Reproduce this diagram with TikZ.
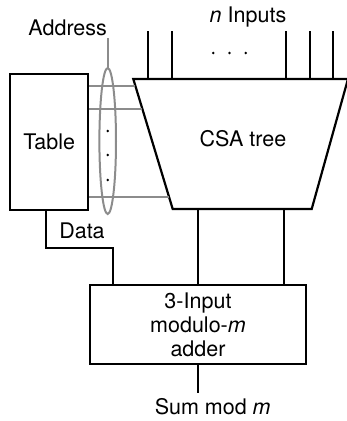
\documentclass[tikz,border=0pt]{standalone}
\usepackage{fontspec}
\setmainfont{TeX Gyre Heros}
\usetikzlibrary{positioning,calc}

\begin{document}
\begin{tikzpicture}[x=1pt,y=-1pt,
  wire/.style={line width=2.2pt},
  addr/.style={line width=2pt,draw=black!45},
  box/.style={draw,line width=2.2pt,inner sep=0pt,align=center},
  lbl/.style={font=\fontsize{21.5}{24}\selectfont,inner sep=0pt}]
  \useasboundingbox (0,0) rectangle (346,421);
  % table and adder
  \node[box,lbl,minimum width=78pt,minimum height=136pt] (tab) at (49.3,142) {Table};
  \node[box,lbl,minimum width=216pt,minimum height=79pt] (add) at (198,324.7)
    {3-Input\\modulo-\textit{m}\\adder};
  % CSA tree
  \coordinate (tl) at (133.3,79); \coordinate (tr) at (348,79);
  \coordinate (br) at (311.7,209); \coordinate (bl) at (172.7,209);
  \draw[wire,line join=miter] (tl) -- (tr) -- (br) -- (bl) -- cycle;
  \node[lbl,anchor=base] (csa) at (243,146.7) {CSA tree};
  % n inputs
  \node[lbl,anchor=base] (inp) at (248,22) {\textit{n} Inputs};
  \foreach \x [count=\i] in {147.7,171.7,286,310,333.3} {
    \coordinate (in\i) at (\x,31);
    \draw[wire] (in\i) -- (in\i |- tl);
  }
  \foreach \x in {213.3,229.5,245.7} \fill (\x,53) circle (1.4pt);
  % address
  \node[lbl,anchor=base] (adr) at (67.7,35) {Address};
  \coordinate (atop) at (107.7,38);
  \draw[addr] (107.7,141) ellipse (8.3pt and 73pt);
  \draw[addr] (atop) -- (107.7,68);
  \foreach \y [count=\i] in {86,109,197.3} {
    \coordinate (a\i) at ($(tl)!{(\y-79)/130}!(bl)$);
    \draw[addr] (tab.east |- a\i) -- (a\i);
  }
  \foreach \y in {131,155,180} \fill (107.7,\y) circle (1.4pt);
  % data
  \coordinate (d0) at ($(tab.south west)!0.455!(tab.south east)$);
  \coordinate (dknee) at (112.7,247.7);
  \draw[wire] (d0) |- (dknee) -- (dknee |- add.north);
  \node[lbl,anchor=base] (dat) at (82,238) {Data};
  \coordinate (o1) at (198.3,209); \coordinate (o2) at (284,209);
  \draw[wire] (o1) -- (o1 |- add.north);
  \draw[wire] (o2) -- (o2 |- add.north);
  % output
  \coordinate (out) at (198,393);
  \draw[wire] (add.south) -- (out);
  \node[lbl,anchor=base] (sum) at (212.7,414) {Sum mod \textit{m}};
\end{tikzpicture}
\end{document}
